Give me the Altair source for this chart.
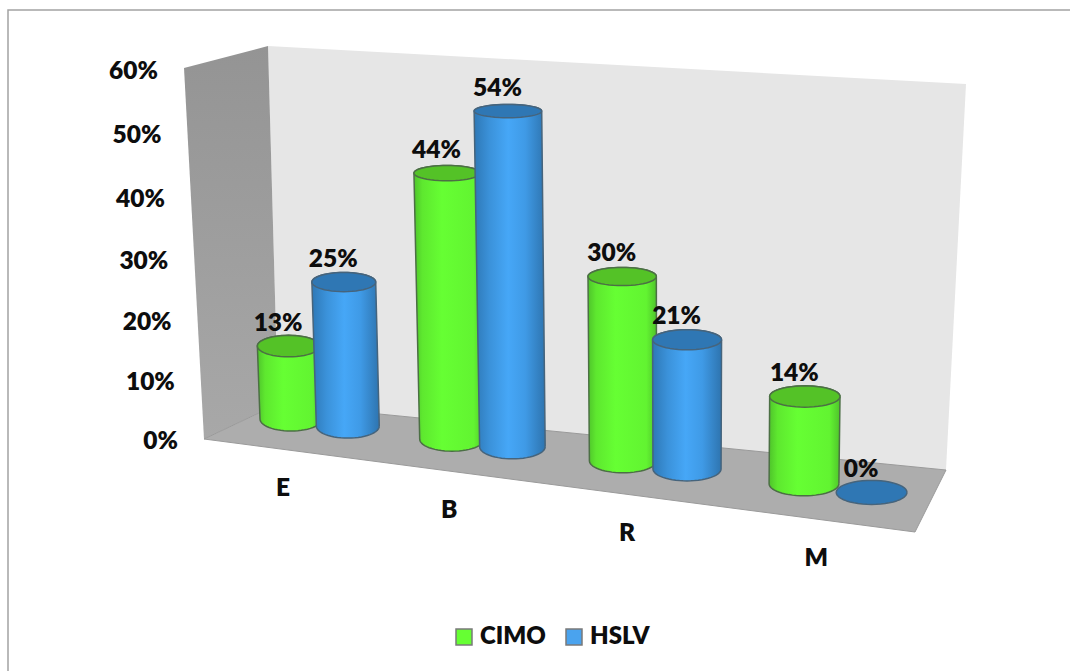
import math
import altair as alt
import pandas as pd

# Survey results, in percent
categories = ["E", "B", "R", "M"]
cimo = [13, 44, 30, 14]
hslv = [25, 54, 21, 0]
axis_ticks = [0, 10, 20, 30, 40, 50, 60]
series_names = ["CIMO", "HSLV"]

W, H = 1070, 671
SCALE_X = alt.Scale(domain=[0, W], range=[0, W], nice=False, zero=False)
SCALE_Y = alt.Scale(domain=[0, H], range=[0, H], nice=False, zero=False)
X = alt.X("x:Q", scale=SCALE_X, axis=None)
Y = alt.Y("y:Q", scale=SCALE_Y, axis=None)

TEXT = dict(font="Lato", fontWeight=800, fontSize=24.5, color="#0D0D0D")


def depth(v):
    """Perspective foreshortening of the value axis, 0..1 over 0%..60%."""
    t = v / 60
    return t / (t + 1.06 * (1 - t))


def base_center(p):
    return 291 + 156 * p + 5 * p * p, 419 + 19.5 * p + 0.7 * p * p


def shape(points, fill, stroke=None, width=1.5):
    """Closed filled outline drawn on the shared pixel-like scales."""
    rows = [{"x": x, "y": y, "o": k} for k, (x, y) in enumerate(points + points[:1])]
    args = dict(fill=fill, filled=True, strokeJoin="round")
    if stroke:
        args.update(stroke=stroke, strokeWidth=width)
    else:
        args.update(strokeWidth=0)
    return alt.Chart(pd.DataFrame(rows)).mark_line(**args).encode(x=X, y=Y, order="o:Q")


def arc(cx, cy, rx, ry, start, end, n=28):
    return [
        (cx + rx * math.cos(math.radians(start + (end - start) * k / n)),
         cy + ry * math.sin(math.radians(start + (end - start) * k / n)))
        for k in range(n + 1)
    ]


def body_gradient(stops):
    return alt.Gradient(
        gradient="linear", x1=0, x2=1, y1=0, y2=0,
        stops=[alt.GradientStop(offset=o, color=c) for o, c in stops],
    )


GREEN_BODY = body_gradient([(0, "#4FC42B"), (0.12, "#5EE82F"), (0.4, "#66FF33"), (0.85, "#62F431"), (1, "#4FC42B")])
BLUE_BODY = body_gradient([(0, "#2E78B6"), (0.22, "#3B92DA"), (0.48, "#46A7F7"), (0.72, "#3F9AE6"), (1, "#2E74AF")])
STYLES = {
    "CIMO": dict(body=GREEN_BODY, top="#54C227", edge="#4C6F45"),
    "HSLV": dict(body=BLUE_BODY, top="#2F77B4", edge="#46647C"),
}

layers = []

# Chart frame
frame = "#A3A3A3"
layers.append(alt.Chart(pd.DataFrame({"x": [8, 8, W], "y": [H, 10, 10], "o": [0, 1, 2]}))
              .mark_line(color=frame, strokeWidth=1.5).encode(x=X, y=Y, order="o:Q"))

# Walls and floor
layers.append(shape([(268, 46), (966, 84), (946, 470), (278, 404)], "#E6E6E6"))
layers.append(shape(
    [(184, 68), (268, 46), (278, 404), (204, 439)],
    alt.Gradient(gradient="linear", x1=0, x2=0, y1=0, y2=1,
                 stops=[alt.GradientStop(offset=0, color="#949494"),
                        alt.GradientStop(offset=1, color="#A8A8A8")]),
))
layers.append(shape([(204, 439), (278, 404), (946, 470), (915, 532)], "#ADADAD", "#9A9A9A", 1))

# Cylinders, back to front
labels = []
for s, (name, values) in enumerate(zip(series_names, [cimo, hslv])):
    style = STYLES[name]
    for i, v in enumerate(values):
        p = i + 0.36 * s
        bx, by = base_center(p)
        z = depth(v)
        tx = bx + (bx - 680) * 0.03 * z
        ty = by - (352 + 13 * p) * z - 7 * z ** 3
        rb = 31 + 1.3 * p
        rt = rb * (1 + 0.035 * z)
        ry_b = 12.0
        ry_t = 12.0 * (1 - 0.5 * z)
        if v > 0:
            outline = arc(bx, by, rb, ry_b, 0, 180) + arc(tx, ty, rt, ry_t, 180, 360)
            layers.append(shape(outline, style["body"], style["edge"], 1.5))
        layers.append(shape(arc(tx, ty, rt, ry_t, 0, 360, 48), style["top"], style["edge"], 1.5))
        labels.append({"x": tx - 10.5, "y": ty - 22.5, "t": f"{v}%"})

layers.append(alt.Chart(pd.DataFrame(labels)).mark_text(align="center", baseline="middle", **TEXT)
              .encode(x=X, y=Y, text="t:N"))

# Value axis labels follow the front edge of the side wall
ticks = [{"x": 178 - 20 * depth(v), "y": 441.5 - 370 * depth(v), "t": f"{v}%"} for v in axis_ticks]
layers.append(alt.Chart(pd.DataFrame(ticks)).mark_text(align="right", baseline="middle", **TEXT)
              .encode(x=X, y=Y, text="t:N"))

# Category labels sit a fixed distance under the floor's front edge
cats = []
for i, c in enumerate(categories):
    x = 283 + 160.5 * i + 5.75 * i * i
    cats.append({"x": x, "y": 439 + (x - 204) * 0.1308 + 40, "t": c})
layers.append(alt.Chart(pd.DataFrame(cats)).mark_text(align="center", baseline="middle", **TEXT)
              .encode(x=X, y=Y, text="t:N"))

# Legend
legend = alt.Legend(
    title=None, orient="none", legendX=452, legendY=625, direction="horizontal",
    symbolType="square", symbolSize=256, symbolStrokeColor="#7A7A7A", symbolStrokeWidth=1.5,
    labelFont="Lato", labelFontWeight=800, labelFontSize=24, labelColor="#0D0D0D",
    columnPadding=16, labelOffset=4, symbolOpacity=1,
)
layers.append(alt.Chart(pd.DataFrame({"s": series_names, "x": [-50, -50], "y": [-50, -50]}))
              .mark_square(size=0, opacity=0)
              .encode(x=X, y=Y, fill=alt.Fill("s:N", legend=legend,
                                              scale=alt.Scale(domain=series_names, range=["#66FF33", "#4AA3EE"]))))

chart = alt.layer(*layers).properties(
    width=W, height=H, padding=0, background="white",
    autosize=alt.AutoSizeParams(type="none"),
).configure_view(stroke=None)

chart.save("out.html", embed_options={"renderer": "svg", "actions": False})
